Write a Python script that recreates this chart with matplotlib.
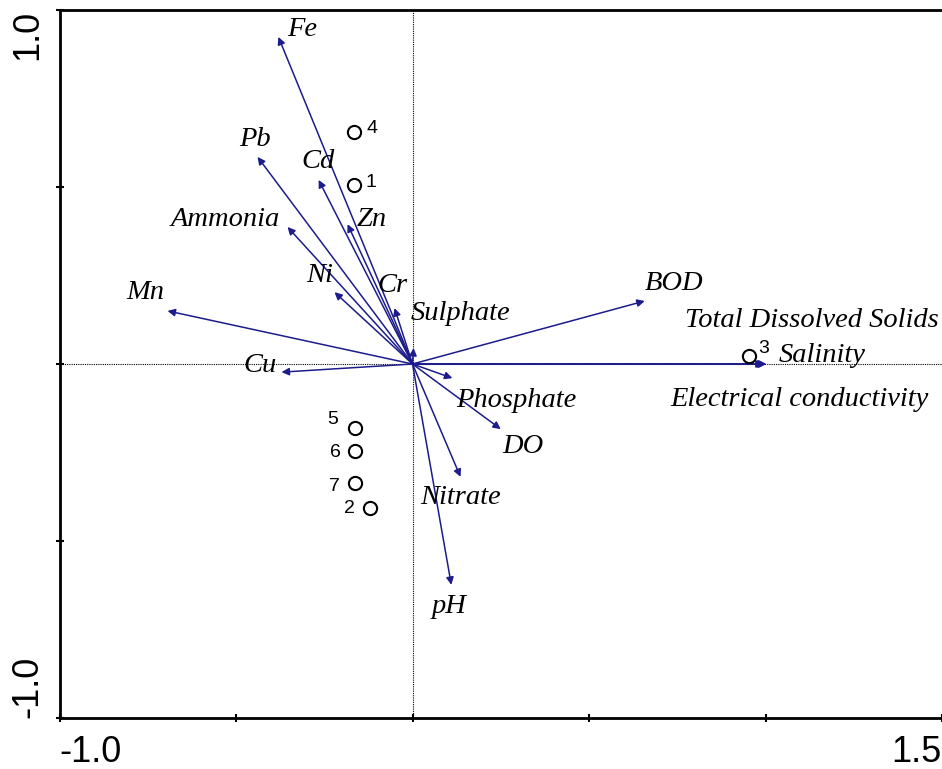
import matplotlib
matplotlib.use('Agg')
import matplotlib.pyplot as plt

# environmental variables (biplot arrows)
env_names = ['Fe', 'Pb', 'Cd', 'Zn', 'Ammonia', 'Ni', 'Cr', 'Mn', 'Cu',
             'Sulphate', 'BOD', 'Total Dissolved Solids', 'Salinity',
             'Electrical conductivity', 'Phosphate', 'DO', 'Nitrate', 'pH']
env_x = [-0.380, -0.439, -0.266, -0.184, -0.354, -0.221, -0.051, -0.694, -0.371,
         0.003, 0.658, 0.995, 1.000, 1.003, 0.113, 0.250, 0.136, 0.110]
env_y = [0.924, 0.585, 0.520, 0.395, 0.387, 0.203, 0.158, 0.150, -0.023,
         0.045, 0.178, 0.000, 0.000, 0.000, -0.040, -0.184, -0.319, -0.624]

# sampling sites
site_names = ['1', '2', '3', '4', '5', '6', '7']
site_x = [-0.167, -0.119, 0.952, -0.167, -0.164, -0.164, -0.164]
site_y = [0.506, -0.407, 0.023, 0.655, -0.181, -0.246, -0.336]

# label placement (layout only)
env_label_xy = [(-0.312, 0.944), (-0.445, 0.633), (-0.269, 0.571), (-0.116, 0.407),
                (-0.530, 0.407), (-0.264, 0.249), (-0.057, 0.223), (-0.757, 0.201),
                (-0.431, -0.003), (0.136, 0.144), (0.740, 0.226), (1.131, 0.124),
                (1.159, 0.025), (1.097, -0.099), (0.295, -0.102), (0.312, -0.234),
                (0.136, -0.376), (0.105, -0.684)]
site_label_xy = [(-0.119, 0.514), (-0.179, -0.407), (0.995, 0.045), (-0.116, 0.664),
                 (-0.227, -0.158), (-0.218, -0.249), (-0.221, -0.347)]

arrow_col = '#1c1c8c'

fig = plt.figure(figsize=(9.42, 7.69), dpi=100)
ax = fig.add_axes([59.5/942, (769-718)/769, (942-59.5)/942, (718-10)/769])
ax.set_xlim(-1.0, 1.5)
ax.set_ylim(-1.0, 1.0)

ax.axhline(0, color='black', lw=0.8, ls=(0, (1, 1)), zorder=1)
ax.axvline(0, color='black', lw=0.8, ls=(0, (1, 1)), zorder=1)

for name, x, y, (lx, ly) in zip(env_names, env_x, env_y, env_label_xy):
    ax.annotate('', xy=(x, y), xytext=(0, 0),
                arrowprops=dict(arrowstyle='-|>', color=arrow_col, lw=1.1,
                                mutation_scale=11, shrinkA=0, shrinkB=0), zorder=2)
    ax.text(lx, ly, name, ha='center', va='center', fontsize=20.5,
            family='Liberation Serif', style='italic', color='black')

ax.plot(site_x, site_y, 'o', ms=9.5, mfc='white', mec='black', mew=1.5,
        ls='none', zorder=3)
for name, (lx, ly) in zip(site_names, site_label_xy):
    ax.text(lx, ly, name, ha='center', va='center', fontsize=14,
            family='Liberation Sans', color='black')

for s in ['left', 'bottom', 'top']:
    ax.spines[s].set_linewidth(2)
ax.spines['right'].set_visible(False)

ax.set_xticks([-1.0, -0.5, 0.0, 0.5, 1.0, 1.5])
ax.set_xticklabels(['-1.0', '', '', '', '', '1.5'], family='Liberation Sans', fontsize=26)
ax.set_yticks([-1.0, -0.5, 0.0, 0.5, 1.0])
ax.set_yticklabels(['-1.0', '', '', '', '1.0'], family='Liberation Sans', fontsize=26,
                   rotation=90)
ax.tick_params(axis='both', direction='inout', length=6, width=1.5)
ax.tick_params(axis='x', pad=9)
ax.tick_params(axis='y', pad=7.5)

xl = ax.get_xticklabels()
xl[0].set_ha('left')
xl[-1].set_ha('right')
yl = ax.get_yticklabels()
yl[0].set_va('bottom')
yl[-1].set_va('top')

fig.savefig('out.png', dpi=100)
